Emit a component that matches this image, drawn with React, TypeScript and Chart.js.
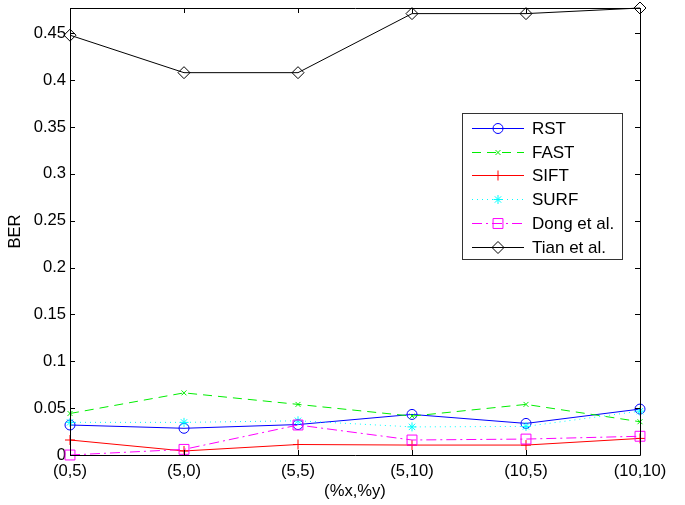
import React, { useEffect, useRef } from "react";
import { Chart, registerables } from "chart.js";
import { drawPoint } from "chart.js/helpers";

Chart.register(...registerables);

const categories = ["(0,5)", "(5,0)", "(5,5)", "(5,10)", "(10,5)", "(10,10)"];
const rst = [0.032, 0.0285, 0.0325, 0.0433, 0.0337, 0.049];
const fast = [0.0443, 0.0663, 0.054, 0.0415, 0.054, 0.0355];
const sift = [0.016, 0.0043, 0.0112, 0.0106, 0.0106, 0.0177];
const surf = [0.0348, 0.0348, 0.0365, 0.03, 0.0305, 0.0468];
const dong = [0.0, 0.006, 0.032, 0.016, 0.017, 0.02];
const tian = [0.448, 0.408, 0.408, 0.471, 0.471, 0.477];
const yTicks = [0, 0.05, 0.1, 0.15, 0.2, 0.25, 0.3, 0.35, 0.4, 0.45];
const seriesNames = ["RST", "FAST", "SIFT", "SURF", "Dong et al.", "Tian et al."];

const FONT = "'Liberation Sans', Arial, Helvetica, sans-serif";
const FS = 16.6;

type Style = {
  color: string;
  dash: number[];
  pointStyle: string;
  radius: number;
};

const styles: Style[] = [
  { color: "#0000ff", dash: [], pointStyle: "circle", radius: 5 },
  { color: "#00ee00", dash: [9, 6], pointStyle: "crossRot", radius: 3.5 },
  { color: "#ff0000", dash: [], pointStyle: "cross", radius: 5 },
  { color: "#00ffff", dash: [1, 4], pointStyle: "star", radius: 4.5 },
  { color: "#ff00ff", dash: [10, 4, 2, 4], pointStyle: "rect", radius: 7 },
  { color: "#000000", dash: [], pointStyle: "rectRot", radius: 6 },
];

const seriesData = [rst, fast, sift, surf, dong, tian];

const framePlugin = {
  id: "frame",
  afterDraw(chart: any) {
    const { ctx, chartArea } = chart;
    const { left, right, top, bottom } = chartArea;
    const xs = chart.scales.x;
    const ys = chart.scales.y;
    ctx.save();
    ctx.strokeStyle = "#000";
    ctx.lineWidth = 1;
    ctx.setLineDash([]);
    ctx.beginPath();
    ctx.rect(Math.round(left) + 0.5, Math.round(top) + 0.5, Math.round(right - left), Math.round(bottom - top));
    ctx.stroke();
    const tl = 5;
    ctx.beginPath();
    for (let i = 0; i < categories.length; i++) {
      const px = Math.round(xs.getPixelForValue(i)) + 0.5;
      ctx.moveTo(px, bottom);
      ctx.lineTo(px, bottom - tl);
      ctx.moveTo(px, top);
      ctx.lineTo(px, top + tl);
    }
    for (const v of yTicks) {
      const py = Math.round(ys.getPixelForValue(v)) + 0.5;
      ctx.moveTo(left, py);
      ctx.lineTo(left + tl, py);
      ctx.moveTo(right, py);
      ctx.lineTo(right - tl, py);
    }
    ctx.stroke();

    // legend
    const bx = 462, by = 113, bw = 160, bh = 146;
    ctx.fillStyle = "#fff";
    ctx.fillRect(bx, by, bw, bh);
    ctx.strokeStyle = "#333";
    ctx.strokeRect(bx + 0.5, by + 0.5, bw, bh);
    ctx.font = `17px ${FONT}`;
    ctx.textBaseline = "middle";
    ctx.textAlign = "left";
    for (let i = 0; i < seriesNames.length; i++) {
      const st = styles[i];
      const y = Math.round(by + 15 + i * 23.7) + 0.5;
      ctx.strokeStyle = st.color;
      ctx.lineWidth = 1;
      ctx.setLineDash(st.dash);
      ctx.beginPath();
      ctx.moveTo(472, y);
      ctx.lineTo(524, y);
      ctx.stroke();
      ctx.setLineDash([]);
      ctx.fillStyle = "rgba(0,0,0,0)";
      ctx.strokeStyle = st.color;
      drawPoint(ctx, { pointStyle: st.pointStyle as any, rotation: 0, radius: st.radius, borderWidth: 1 }, 498, y);
      ctx.fillStyle = "#000";
      ctx.fillText(seriesNames[i], 532, y + 1);
    }
    ctx.restore();
  },
};

export default function App() {
  const ref = useRef<HTMLCanvasElement | null>(null);
  useEffect(() => {
    if (!ref.current) return;
    const chart = new Chart(ref.current, {
      type: "line",
      data: {
        labels: categories,
        datasets: seriesData.map((d, i) => ({
          label: seriesNames[i],
          data: d,
          borderColor: styles[i].color,
          backgroundColor: "rgba(0,0,0,0)",
          borderWidth: 1,
          borderDash: styles[i].dash,
          pointStyle: styles[i].pointStyle as any,
          pointRadius: styles[i].radius,
          pointBorderWidth: 1,
          pointBorderColor: styles[i].color,
          pointBackgroundColor: "rgba(0,0,0,0)",
          tension: 0,
          fill: false,
          clip: false as any,
          order: 6 - i,
        })),
      },
      options: {
        animation: false,
        responsive: false,
        devicePixelRatio: 1,
        layout: { padding: { left: 0, right: 45, top: 7, bottom: 0 } },
        plugins: {
          legend: { display: false },
          tooltip: { enabled: false },
        },
        scales: {
          x: {
            type: "category",
            offset: false,
            grid: { display: false, drawTicks: false },
            border: { display: false },
            ticks: {
              color: "#000",
              font: { family: FONT, size: FS },
              padding: 6,
              maxRotation: 0,
              autoSkip: false,
            },
            title: {
              display: true,
              text: "(%x,%y)",
              color: "#000",
              font: { family: FONT, size: FS },
              padding: { top: 0, bottom: 4 },
            },
            afterFit: (s: any) => {
              s.height = 50;
              s.paddingLeft = 0;
              s.paddingRight = 0;
            },
          },
          y: {
            type: "linear",
            min: 0,
            max: 0.477,
            grid: { display: false, drawTicks: false },
            border: { display: false },
            ticks: {
              stepSize: 0.05,
              includeBounds: false,
              color: "#000",
              font: { family: FONT, size: FS },
              padding: 4,
              callback: (v: any) => {
                const n = Number(Number(v).toFixed(2));
                return yTicks.some((t) => Math.abs(t - n) < 1e-6) ? String(n) : "";
              },
            },
            title: {
              display: true,
              text: "BER",
              color: "#000",
              font: { family: FONT, size: FS },
              padding: { top: 5, bottom: 0 },
            },
            afterFit: (s: any) => {
              s.width = 70;
              s.paddingTop = 0;
              s.paddingBottom = 0;
            },
          },
        },
      },
      plugins: [framePlugin],
    });
    return () => chart.destroy();
  }, []);
  return (
    <div style={{ position: "absolute", left: 0, top: 0, width: 685, height: 505, background: "#fff" }}>
      <canvas ref={ref} width={685} height={505} style={{ width: 685, height: 505, display: "block" }} />
    </div>
  );
}
